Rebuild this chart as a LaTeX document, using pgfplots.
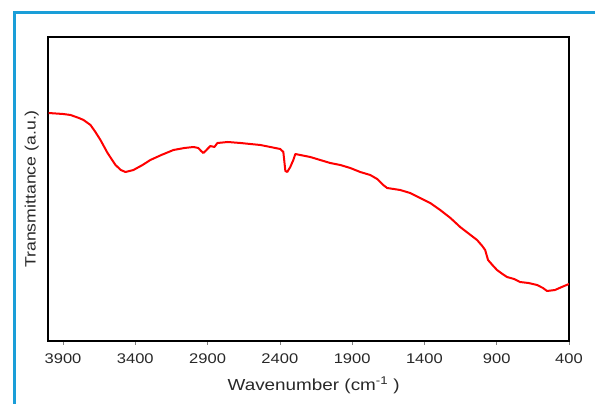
\documentclass[border=0pt]{standalone}
\usepackage{fontspec}
\setmainfont[FakeStretch=1.18]{Liberation Sans}
\usepackage{pgfplots}
\pgfplotsset{compat=1.18}
\definecolor{framblue}{RGB}{26,158,216}
\definecolor{txtgray}{RGB}{40,40,40}
\pgfplotstableread{
wn T
4000 228
3900 227
3848 226
3790 223
3758 221
3710 216
3676 209
3641 201
3592 188
3537 176
3500 171
3468 169
3413 171
3350 176
3296 181
3220 186
3136 191
3060 193
2998 194
2964 193
2945 190
2929 188
2908 191
2881 195
2853 194
2832 198
2760 199
2673 198
2535 196
2397 192
2376 189
2362 170
2349 169
2328 174
2307 181
2293 187
2259 186
2190 184
2121 181
2052 178
1982 176
1913 173
1844 169
1775 166
1727 162
1685 156
1658 153
1568 151
1499 148
1430 143
1360 138
1291 131
1220 123
1153 114
1090 107
1036 101
1000 95
980 91
960 81
930 76
898 71
860 67
829 64
780 62
739 59
680 58
621 56
580 53
552 50
497 51
450 54
400 57
}\ftir
\begin{document}
\begin{tikzpicture}[x=1pt,y=1pt]
\useasboundingbox (0,0) rectangle (595,404);
\draw[framblue, line width=3pt] (14,0) -- (14,391.5) -- (595,391.5);
\begin{axis}[
  at={(48pt,63pt)}, anchor=south west,
  width=521pt, height=304pt, scale only axis,
  xmin=400, xmax=4004, ymin=0, ymax=304,
  x dir=reverse,
  xtick={3900,3400,2900,2400,1900,1400,900,400},
  ytick=\empty,
  axis line style={black, line width=1.3pt},
  tick align=outside,
  xtick pos=bottom,
  major tick length=4pt,
  tick style={gray, line width=0.6pt},
  /pgf/number format/assume math mode=true,
  /pgf/number format/set thousands separator={},
  xticklabel style={font=\fontsize{14}{16}\selectfont, text=txtgray, yshift=-5pt},
  xlabel={Wavenumber (cm\textsuperscript{-1} )},
  ylabel={Transmittance (a.u.)},
  xlabel style={font=\fontsize{16}{18}\selectfont, text=txtgray, at={(axis description cs:0.51,-0.145)}, anchor=center},
  ylabel style={font=\fontsize{15}{17}\selectfont, text=txtgray, at={(axis description cs:-0.031,0.5)}, anchor=center},
]
\addplot[red, line width=2pt, line join=round] table[x=wn, y=T] {\ftir};
\end{axis}
\end{tikzpicture}
\end{document}
